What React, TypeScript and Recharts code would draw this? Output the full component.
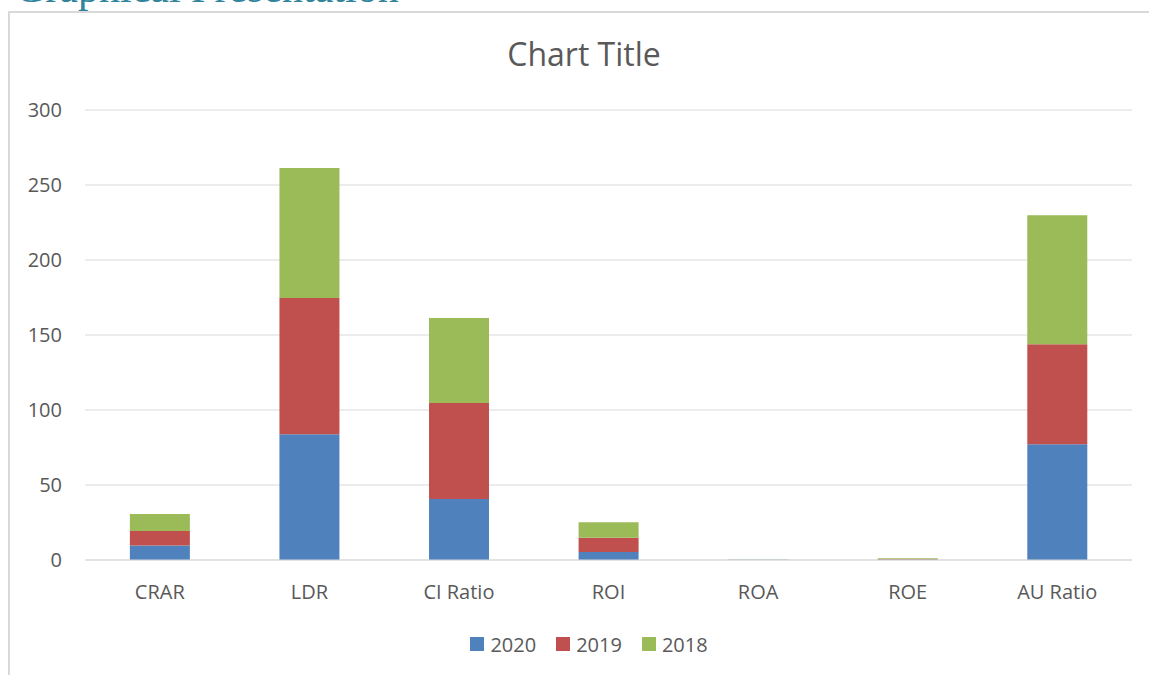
import React from 'react';
import { BarChart, Bar, XAxis, YAxis, CartesianGrid, Legend } from 'recharts';

const categories = ['CRAR', 'LDR', 'CI Ratio', 'ROI', 'ROA', 'ROE', 'AU Ratio'];
const values2020 = [9.7, 83.8, 40.7, 5.3, 0.1, 0.3, 77.1];
const values2019 = [9.7, 90.9, 64.0, 9.6, 0.1, 0.3, 66.7];
const values2018 = [11.2, 86.6, 56.6, 10.2, 0.1, 0.5, 86.0];
const yTicks = [0, 50, 100, 150, 200, 250, 300];
const seriesNames = ['2020', '2019', '2018'];
const seriesColors = ['#4F81BD', '#C0504D', '#9BBB59'];

const data = categories.map((c, i) => ({
  name: c,
  '2020': values2020[i],
  '2019': values2019[i],
  '2018': values2018[i],
}));

const FONT = "'Open Sans', 'Noto Sans', sans-serif";
const TEXT = '#595959';

const LegendContent = (props: any) => {
  const payload = [...(props.payload || [])].sort(
    (a: any, b: any) => seriesNames.indexOf(String(a.value)) - seriesNames.indexOf(String(b.value))
  );
  return (
    <div
      style={{
        height: 36,
        display: 'flex',
        justifyContent: 'center',
        alignItems: 'center',
        fontFamily: FONT,
        fontSize: 20,
        color: TEXT,
      }}
    >
      {payload.map((p: any, i: number) => (
        <div key={i} style={{ display: 'flex', alignItems: 'center', marginRight: i < payload.length - 1 ? 20 : 0 }}>
          <div style={{ width: 14, height: 14, background: p.color, marginRight: 6 }} />
          <span>{p.value}</span>
        </div>
      ))}
    </div>
  );
};

export default function App() {
  return (
    <div style={{ position: 'fixed', left: 0, top: 0, width: 1149, height: 675, overflow: 'hidden', background: '#fff' }}>
      <svg width={1149} height={14} style={{ position: 'absolute', left: 0, top: 0, overflow: 'visible' }}>
        <text x={15} y={2} fill="#31849B" fontFamily="'Liberation Serif', serif" fontSize={42}>
          Graphical Presentation
        </text>
      </svg>
      <div
        style={{
          position: 'absolute',
          left: 8,
          top: 11,
          width: 1300,
          height: 800,
          borderTop: '2px solid #d9d9d9',
          borderLeft: '2px solid #d9d9d9',
          boxSizing: 'border-box',
        }}
      />
      <div style={{ position: 'absolute', left: 0, top: 0 }}>
        <BarChart
          width={1149}
          height={675}
          data={data}
          margin={{ top: 110, right: 17, bottom: 34, left: 0 }}
          barCategoryGap="30%"
        >
          <CartesianGrid vertical={false} stroke="#d9d9d9" />
          <XAxis
            dataKey="name"
            axisLine={{ stroke: '#d9d9d9' }}
            tickLine={false}
            tickMargin={19}
            height={45}
            interval={0}
            tick={{ fill: TEXT, fontSize: 20, fontFamily: FONT }}
          />
          <YAxis
            width={85}
            domain={[0, 300]}
            ticks={yTicks}
            axisLine={false}
            tickLine={false}
            tickMargin={17}
            tick={{ fill: TEXT, fontSize: 20, fontFamily: FONT }}
          />
          <Legend
            verticalAlign="bottom"
            content={<LegendContent />}
            wrapperStyle={{ top: 626, bottom: 'auto', left: 0, width: 1178 }}
          />
          {seriesNames.map((s, i) => (
            <Bar key={s} dataKey={s} name={s} stackId="a" fill={seriesColors[i]} isAnimationActive={false} />
          ))}
        </BarChart>
      </div>
      <svg width={1149} height={100} style={{ position: 'absolute', left: 0, top: 0, pointerEvents: 'none' }}>
        <text x={584} y={66} textAnchor="middle" fill={TEXT} fontFamily={FONT} fontSize={32}>
          Chart Title
        </text>
      </svg>
    </div>
  );
}
